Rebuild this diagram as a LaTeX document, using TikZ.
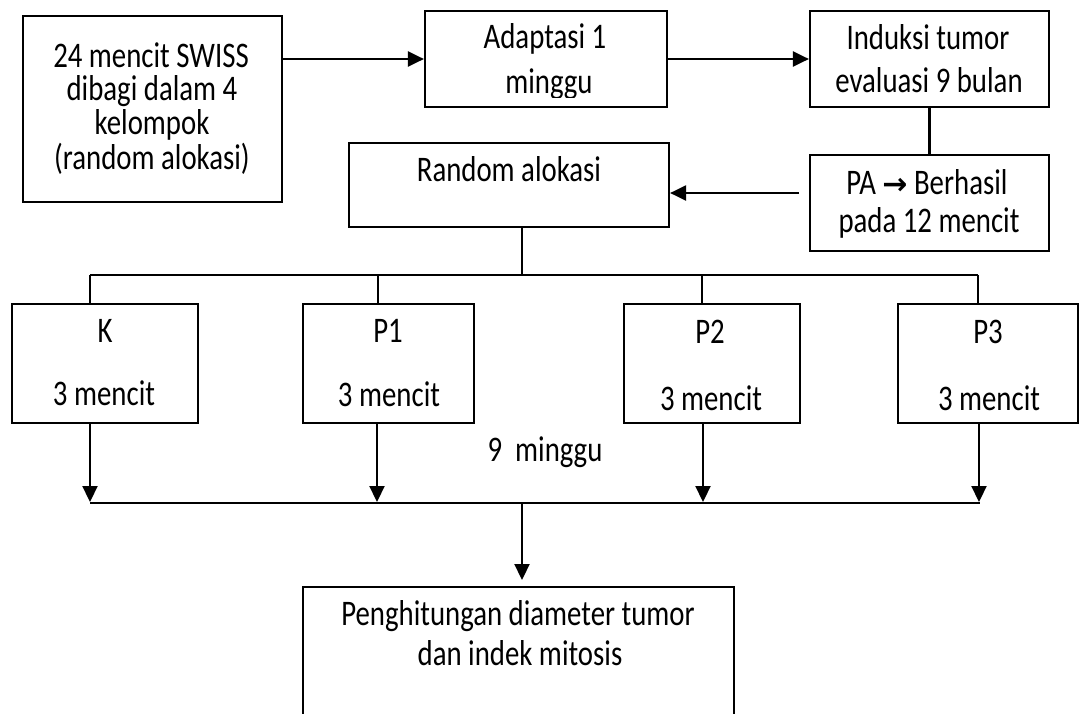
\documentclass[tikz,border=0pt]{standalone}
\usepackage{fontspec}
\setmainfont[FakeStretch=0.8]{Carlito}
\newfontfamily\symfont{DejaVu Sans Bold}
\usetikzlibrary{arrows.meta}
\tikzset{
  box/.style={draw, line width=2.2pt, inner sep=0pt},
  conn/.style={line width=2.2pt},
  arr/.style={line width=2.2pt, -{Triangle[length=16pt,width=15pt]}},
  txt/.style={anchor=base, inner sep=0pt, font=\fontsize{36}{36}\selectfont},
}
\begin{document}
\begin{tikzpicture}[x=1pt,y=-1pt]
\useasboundingbox (0,0) rectangle (1080,713);
\fill[white] (0,0) rectangle (1080,713);
\clip (0,0) rectangle (1080,713);

% boxes
\node[box, minimum width=259pt, minimum height=186pt] (b1) at (152.5,109) {};
\node[box, minimum width=242pt, minimum height=96pt] (adapt) at (546,59) {};
\node[box, minimum width=239pt, minimum height=96pt] (induksi) at (929.5,59) {};
\node[box, minimum width=239pt, minimum height=96pt] (pa) at (929.5,203) {};
\node[box, minimum width=320pt, minimum height=84pt] (rand) at (509,185) {};
\node[box, minimum width=186pt, minimum height=119pt] (gK) at (105,363.5) {};
\node[box, minimum width=171pt, minimum height=119pt] (gP1) at (388.5,363.5) {};
\node[box, minimum width=176pt, minimum height=119pt] (gP2) at (712,363.5) {};
\node[box, minimum width=180pt, minimum height=119pt] (gP3) at (988,363.5) {};
\node[box, minimum width=431pt, minimum height=146pt] (hasil) at (518.5,660) {};

% texts
\node[txt] (t1a) at (151,67) {24 mencit SWISS};
\node[txt] (t1b) at (152,100) {dibagi dalam 4};
\node[txt] (t1c) at (152,134) {kelompok};
\node[txt] (t1d) at (152,169) {(random alokasi)};
\node[txt] (t2a) at (545,48) {Adaptasi 1};
\begin{scope}
\clip (425,11) rectangle (667,97);
\node[txt] (t2b) at (549,93) {minggu};
\end{scope}
\node[txt] (t3a) at (928,49) {Induksi tumor};
\node[txt] (t3b) at (929,92) {evaluasi 9 bulan};
\node[txt] (t4a) at (927,194) {PA {\symfont\fontsize{30}{30}\selectfont →} Berhasil};
\node[txt] (t4b) at (929,232) {pada 12 mencit};
\node[txt] (t5) at (509,181) {Random alokasi};
\node[txt] (tKa) at (105,342) {K};
\node[txt] (tKb) at (104,405) {3 mencit};
\node[txt] (tP1a) at (388,342) {P1};
\node[txt] (tP1b) at (389,406) {3 mencit};
\node[txt] (tP2a) at (710,343) {P2};
\node[txt] (tP2b) at (711,410) {3 mencit};
\node[txt] (tP3a) at (988,343) {P3};
\node[txt] (tP3b) at (989,410) {3 mencit};
\node[txt] (tmg) at (545,461) {9\ \ minggu};
\node[txt] (t6a) at (518,625) {Penghitungan diameter tumor};
\node[txt] (t6b) at (520,665) {dan indek mitosis};

% coordinates
\coordinate (paout) at (799,193);
\coordinate (split) at (522,275);
\coordinate (tK) at (90,275);
\coordinate (tP1) at (378,275);
\coordinate (tP2) at (702,275);
\coordinate (tP3) at (978,275);
\coordinate (jK) at (90,502);
\coordinate (jP1) at (377,502);
\coordinate (jP2) at (703,502);
\coordinate (jP3) at (979,502);
\coordinate (mL) at (90,503);
\coordinate (mR) at (980,503);
\coordinate (merge) at (522,503);
\coordinate (hin) at (522,580);

% connectors
\draw[arr] (b1.east |- adapt.west) -- (adapt.west);
\draw[arr] (adapt.east) -- (induksi.west);
\draw[conn] (induksi.south) -- (pa.north);
\draw[arr] (paout) -- (paout -| rand.east);
\draw[conn] (split |- rand.south) -- (split);
\draw[conn] (tK) -- (tP3);
\draw[conn] (tK) -- (tK |- gK.north);
\draw[conn] (tP1) -- (tP1 |- gP1.north);
\draw[conn] (tP2) -- (tP2 |- gP2.north);
\draw[conn] (tP3) -- (tP3 |- gP3.north);
\draw[arr] (jK |- gK.south) -- (jK);
\draw[arr] (jP1 |- gP1.south) -- (jP1);
\draw[arr] (jP2 |- gP2.south) -- (jP2);
\draw[arr] (jP3 |- gP3.south) -- (jP3);
\draw[conn] (mL) -- (mR);
\draw[arr] (merge) -- (hin);
\end{tikzpicture}
\end{document}
